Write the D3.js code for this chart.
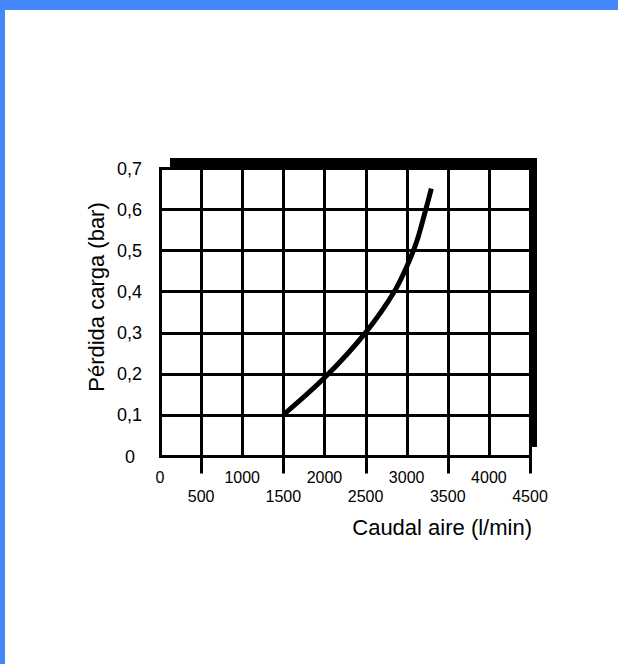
<!DOCTYPE html>
<html>
<head>
<meta charset="utf-8">
<script src="https://cdn.jsdelivr.net/npm/d3@7"></script>
<style>
  body { margin: 0; background: #fff; }
  svg { display: block; }
  text { font-family: "Liberation Sans", Arial, sans-serif; fill: #000; }
</style>
</head>
<body>
<div id="chart"></div>
<script>
// air flow (l/min) vs pressure loss (bar)
var flow = [1500, 2000, 2500, 2850, 3000, 3120, 3220, 3300];
var loss = [0.10, 0.19, 0.30, 0.40, 0.46, 0.52, 0.59, 0.65];

var xTicks = [0, 500, 1000, 1500, 2000, 2500, 3000, 3500, 4000, 4500];
var yTicks = [0, 0.1, 0.2, 0.3, 0.4, 0.5, 0.6, 0.7];

var xTitle = "Caudal aire (l/min)";
var yTitle = "Pérdida carga (bar)";

var width = 618;
var height = 664;

var svg = d3.select("#chart").append("svg")
	.attr("width", width)
	.attr("height", height);

// blue slide frame on top and left edge
svg.append("rect").attr("x", 0).attr("y", 0).attr("width", width).attr("height", 10).style("fill", "#4487fb");
svg.append("rect").attr("x", 0).attr("y", 0).attr("width", 5).attr("height", height).style("fill", "#4487fb");

var x = d3.scaleLinear().domain([0, 4500]).range([160, 530]);
var y = d3.scaleLinear().domain([0, 0.7]).range([456, 168]);

// snap to pixel centre so 3px lines stay crisp
function px(v) { return Math.round(v) + 0.5; }

var es = d3.formatLocale({decimal: ",", thousands: ".", grouping: [3], currency: ["", "€"]});
var yFmt = es.format(".1f");

// thick shadow bar on top and right
svg.append("rect")
	.attr("x", x(0) + 10)
	.attr("y", y(0.7) - 10)
	.attr("width", x(4500) - x(0) - 3)
	.attr("height", y(0) - y(0.7) + 1)
	.style("fill", "#000");

svg.append("rect")
	.attr("x", x(0))
	.attr("y", y(0.7))
	.attr("width", x(4500) - x(0))
	.attr("height", y(0) - y(0.7))
	.style("fill", "#fff");

// grid
var grid = svg.append("g").style("stroke", "#000").style("stroke-width", 3);

yTicks.forEach(function(v)
{
	grid.append("line")
		.attr("x1", px(x(0)) - 1.5).attr("x2", px(x(4500)) + 1.5)
		.attr("y1", px(y(v))).attr("y2", px(y(v)));
});

xTicks.forEach(function(v, i)
{
	var bottom = px(y(0));
	if(i % 2 == 1){ bottom = px(y(0)) + 17; }
	grid.append("line")
		.attr("x1", px(x(v))).attr("x2", px(x(v)))
		.attr("y1", px(y(0.7)) - 1.5).attr("y2", bottom);
});

// tick labels
yTicks.forEach(function(v)
{
	var t = svg.append("text")
		.attr("y", y(v) + 6.5)
		.style("font-size", "18px")
		.text(v == 0 ? "0" : yFmt(v));
	if(v == 0)
	{
		t.attr("x", 130).attr("text-anchor", "middle");
	}
	else
	{
		t.attr("x", 142).attr("text-anchor", "end");
	}
});

xTicks.forEach(function(v, i)
{
	svg.append("text")
		.attr("x", x(v))
		.attr("y", i % 2 == 0 ? 483 : 502)
		.attr("text-anchor", "middle")
		.style("font-size", "16px")
		.text(v);
});

// curve
var line = d3.line()
	.x(function(d) { return x(d[0]); })
	.y(function(d) { return y(d[1]); })
	.curve(d3.curveCatmullRom);

svg.append("path")
	.datum(d3.zip(flow, loss))
	.attr("d", line)
	.style("fill", "none")
	.style("stroke", "#000")
	.style("stroke-width", 5);

// axis titles
svg.append("text")
	.attr("x", 532)
	.attr("y", 535)
	.attr("text-anchor", "end")
	.style("font-size", "22px")
	.text(xTitle);

svg.append("text")
	.attr("transform", "translate(104,297) rotate(-90)")
	.attr("text-anchor", "middle")
	.style("font-size", "22px")
	.text(yTitle);
</script>
</body>
</html>
